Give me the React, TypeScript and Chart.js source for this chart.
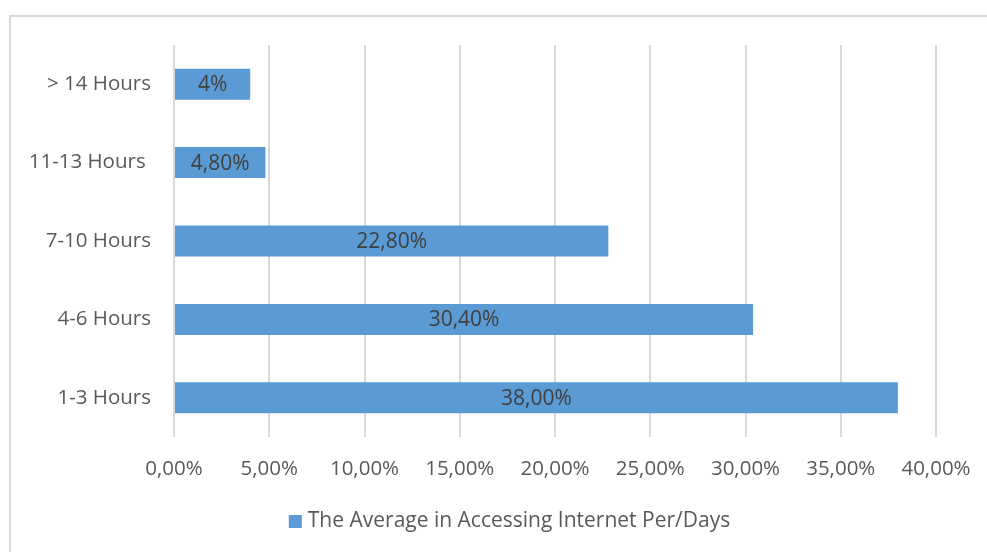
import React, { useEffect, useRef } from "react";
import { Chart, registerables } from "chart.js";

Chart.register(...registerables);

const categories = ["> 14 Hours", "11-13 Hours ", "7-10 Hours", "4-6 Hours", "1-3 Hours"];
const values = [4, 4.8, 22.8, 30.4, 38];
const valueLabels = ["4%", "4,80%", "22,80%", "30,40%", "38,00%"];
const seriesName = "The Average in Accessing Internet Per/Days";
const xTicks = [0, 5, 10, 15, 20, 25, 30, 35, 40];

const FONT = "'Open Sans', 'Liberation Sans', sans-serif";
const TEXT = "#595959";
const BAR = "#5B9BD5";

const frame = {
  id: "frame",
  beforeDraw(chart: any) {
    const ctx = chart.ctx;
    ctx.save();
    ctx.fillStyle = "#ffffff";
    ctx.fillRect(0, 0, chart.width, chart.height);
    ctx.strokeStyle = "#d9d9d9";
    ctx.lineWidth = 2;
    ctx.strokeRect(10, 16, chart.width + 10, chart.height + 10);
    ctx.restore();
  },
};

const barLabels = {
  id: "barLabels",
  afterDatasetsDraw(chart: any) {
    const ctx = chart.ctx;
    const meta = chart.getDatasetMeta(0);
    ctx.save();
    ctx.font = `21px ${FONT}`;
    ctx.fillStyle = "#404040";
    ctx.textAlign = "center";
    ctx.textBaseline = "middle";
    meta.data.forEach((bar: any, i: number) => {
      const cx = (bar.x + bar.base) / 2;
      ctx.fillText(valueLabels[i], cx, bar.y + 1);
    });
    ctx.restore();
  },
};

const bottomLegend = {
  id: "bottomLegend",
  afterDraw(chart: any) {
    const ctx = chart.ctx;
    ctx.save();
    ctx.font = `21px ${FONT}`;
    const label = chart.data.datasets[0].label;
    const tw = ctx.measureText(label).width;
    const box = 13;
    const gap = 6;
    const total = box + gap + tw;
    const cx = 509.5;
    const cy = 521.5;
    const x0 = cx - total / 2;
    ctx.fillStyle = chart.data.datasets[0].backgroundColor;
    ctx.fillRect(x0, cy - box / 2, box, box);
    ctx.fillStyle = TEXT;
    ctx.textAlign = "left";
    ctx.textBaseline = "middle";
    ctx.fillText(label, x0 + box + gap, cy);
    ctx.restore();
  },
};

export default function App() {
  const ref = useRef<HTMLCanvasElement>(null);
  useEffect(() => {
    document.body.style.margin = "0";
    const chart = new Chart(ref.current!, {
      type: "bar",
      data: {
        labels: categories,
        datasets: [
          {
            label: seriesName,
            data: values,
            backgroundColor: BAR,
            borderWidth: 0,
            barPercentage: 0.79,
            categoryPercentage: 0.5,
          },
        ],
      },
      options: {
        indexAxis: "y",
        animation: false,
        responsive: false,
        maintainAspectRatio: false,
        layout: { padding: { top: 45, right: 51, bottom: 51, left: 0 } },
        plugins: {
          tooltip: { enabled: false },
          legend: { display: false },
        },
        scales: {
          x: {
            min: 0,
            max: 40,
            afterBuildTicks(scale: any) {
              scale.ticks = xTicks.map((v) => ({ value: v }));
            },
            afterFit(scale: any) {
              scale.height = 64;
              scale.paddingLeft = 0;
              scale.paddingRight = 0;
            },
            grid: { color: "#d9d9d9", lineWidth: 2, drawTicks: false },
            border: { display: false },
            ticks: {
              color: TEXT,
              font: { family: FONT, size: 20.5 },
              padding: 20,
              callback: (v: any) => Number(v).toFixed(2).replace(".", ",") + "%",
            },
          },
          y: {
            afterFit(scale: any) {
              scale.width = 174;
            },
            grid: { display: false, drawTicks: false },
            border: { display: false },
            ticks: {
              color: TEXT,
              font: { family: FONT, size: 20.5 },
              padding: 23,
            },
          },
        },
      },
      plugins: [frame, barLabels, bottomLegend],
    });
    return () => chart.destroy();
  }, []);
  return (
    <div style={{ position: "absolute", left: 0, top: 0, width: 987, height: 552 }}>
      <canvas ref={ref} width={987} height={552} />
    </div>
  );
}
